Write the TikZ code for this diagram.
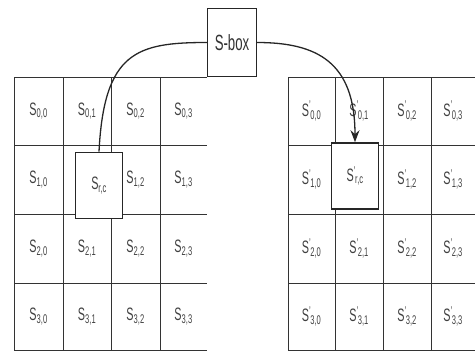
\documentclass[tikz,border=0pt]{standalone}
\usepackage{fontspec}
\setmainfont{Liberation Sans}
\usepackage{graphicx}
\usepackage{tikz}
\usetikzlibrary{arrows.meta}

% narrow letters, as in the picture
\newcommand{\narrow}[1]{\scalebox{0.6}[1]{#1}}
\newcommand{\cellS}[1]{\narrow{S\textsubscript{#1}}}
\newcommand{\cellSp}[1]{\narrow{S\textsuperscript{'}\kern-1pt\textsubscript{#1}}}

\begin{document}
\begin{tikzpicture}[
    x=1pt, y=-1pt,
    grid/.style={draw=black!80, line width=0.8pt},
    cell/.style={font=\fontsize{18}{18}\selectfont, text=black!75, inner sep=0pt},
    pick/.style={draw=black!85, line width=1.6pt, fill=white, minimum width=47pt, minimum height=66pt, inner sep=0pt, font=\fontsize{18}{18}\selectfont, text=black!75},
    lookup/.style={draw=black!85, line width=1.2pt, fill=white, minimum width=49pt, minimum height=68pt, inner sep=0pt, font=\fontsize{22}{22}\selectfont, text=black!80},
    link/.style={draw=black!85, line width=1.3pt}
]
\useasboundingbox (0,0) rectangle (475,351);

% --- Left state grid ---
\foreach \y in {77,145,214,283,350} \draw[grid] (14,\y) -- (207,\y);
\foreach \x in {14,63,111,160} \draw[grid] (\x,77) -- (\x,350);

% --- Right state grid ---
\foreach \y in {77,145,214,283,350} \draw[grid] (288,\y) -- (475,\y);
\foreach \x in {288,335,383,431} \draw[grid] (\x,77) -- (\x,350);

% left cells
\foreach \c/\x in {0/38.5, 1/87, 2/135.5, 3/183.5} \node[cell] (a0\c) at (\x,111) {\cellS{0,\c}};
\foreach \c/\x in {0/38.5, 2/135.5, 3/183.5} \node[cell] (a1\c) at (\x,179.5) {\cellS{1,\c}};
\foreach \c/\x in {0/38.5, 1/87, 2/135.5, 3/183.5} \node[cell] (a2\c) at (\x,248.5) {\cellS{2,\c}};
\foreach \c/\x in {0/38.5, 1/87, 2/135.5, 3/183.5} \node[cell] (a3\c) at (\x,316.5) {\cellS{3,\c}};

% right cells
\foreach \c/\x in {0/311.5, 1/359, 2/407, 3/453} \node[cell] (b0\c) at (\x,111) {\cellSp{0,\c}};
\foreach \c/\x in {0/311.5, 2/407, 3/453} \node[cell] (b1\c) at (\x,179.5) {\cellSp{1,\c}};
\foreach \c/\x in {0/311.5, 1/359, 2/407, 3/453} \node[cell] (b2\c) at (\x,248.5) {\cellSp{2,\c}};
\foreach \c/\x in {0/311.5, 1/359, 2/407, 3/453} \node[cell] (b3\c) at (\x,316.5) {\cellSp{3,\c}};

% picked byte, before and after
\node[pick] (src) at (99,185.5) {\cellS{r,c}};
\node[pick] (dst) at (355,176) {\cellSp{r,c}};

% S-box
\node[lookup] (sbox) at (232,42.5) {\narrow{S-box}};

% connectors
\draw[link] (src.north) .. controls +(5,-100) and +(-70,0) .. (sbox.west);
\draw[link, -{Stealth[length=12pt, width=9pt]}] (sbox.east) .. controls +(60,0) and +(0,-80) .. (dst.north);

\end{tikzpicture}
\end{document}
